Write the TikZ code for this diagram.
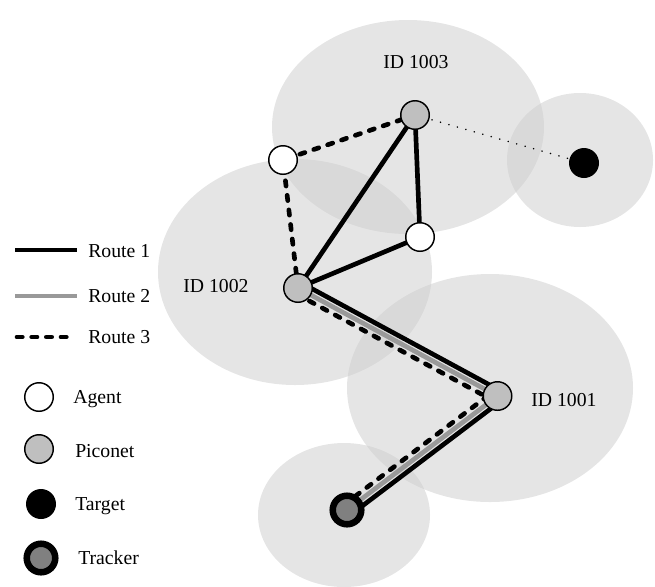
\documentclass[tikz,border=0pt]{standalone}
\usepackage{fontspec}
\setmainfont{Liberation Serif}

\begin{document}
\begin{tikzpicture}[x=0.75pt,y=-0.75pt,
  every node/.style={font=\fontsize{14.8}{17}\selectfont, inner sep=0pt},
  zone/.style={fill=black!20, fill opacity=0.5},
  unit/.style={circle, draw, line width=1.1pt, minimum size=21.4pt},
  agent/.style={unit, fill=white},
  piconet/.style={unit, fill=black!25},
  target/.style={circle, fill=black, minimum size=22.5pt},
  tracker/.style={circle, draw, line width=4.9pt, fill=black!50, minimum size=21.4pt},
  route1/.style={line width=3.5pt, black},
  route2/.style={line width=3.5pt, black!40},
  route3/.style={line width=3.5pt, dash pattern=on 4pt off 7pt, line cap=round},
  ]
\useasboundingbox (0,0) rectangle (655,586);

% coverage zones
\fill[zone] (408,127) ellipse [x radius=136, y radius=107];
\fill[zone] (580,160) ellipse [x radius=73, y radius=67];
\fill[zone] (295,272) ellipse [x radius=137, y radius=113];
\fill[zone] (490,388) ellipse [x radius=143, y radius=114];
\fill[zone] (344,515) ellipse [x radius=86, y radius=72];

\coordinate (p1003) at (415,115);
\coordinate (p1002) at (298,288);
\coordinate (p1001) at (497.5,396);
\coordinate (aTL) at (283,160);
\coordinate (aR) at (420,237);
\coordinate (trk) at (347,510);
\coordinate (tgt) at (584,163);

% routes
\draw[route2] (trk) -- (p1001) -- (p1002);
\draw[route1] ([shift={(3.6,4.8)}]trk) -- ([shift={(3.6,4.8)}]p1001);
\draw[route1] ([shift={(2.85,-5.3)}]p1001) -- ([shift={(2.85,-5.3)}]p1002);
\draw[route1] (p1002) -- (p1003) -- (aR) -- (p1002);
\draw[route3] ([shift={(-3.6,-4.8)}]trk) -- ([shift={(-3.6,-4.8)}]p1001);
\draw[route3] ([shift={(-2.85,5.3)}]p1001) -- ([shift={(-2.85,5.3)}]p1002);
\draw[route3] (p1002) -- (aTL) -- (p1003);
\draw[line width=1.2pt, dash pattern=on 0.1pt off 6.5pt, line cap=round] (p1003) -- (tgt);

% units
\node[piconet] (n1003) at (p1003) {};
\node[piconet] (n1002) at (p1002) {};
\node[piconet] (n1001) at (p1001) {};
\node[agent] (agentTL) at (aTL) {};
\node[agent] (agentR) at (aR) {};
\node[tracker] (tracker) at (trk) {};
\node[target] (target) at (tgt) {};

\node[anchor=base west] (l1003) at (383,68) {ID 1003};
\node[anchor=base west] (l1002) at (183,292) {ID 1002};
\node[anchor=base west] (l1001) at (531,406) {ID 1001};

% legend
\draw[route1] (15,250) -- (77,250);
\draw[route2] (15,296) -- (77,296);
\draw[route3] (17,337) -- (75,337);
\node[anchor=base west] (t1) at (88,257) {Route 1};
\node[anchor=base west] (t2) at (88,302) {Route 2};
\node[anchor=base west] (t3) at (88,343) {Route 3};

\node[agent] (kAgent) at (39,397) {};
\node[piconet] (kPiconet) at (39,449) {};
\node[target] (kTarget) at (41,504) {};
\node[tracker] (kTracker) at (41,558) {};
\node[anchor=base west] (tAgent) at (73,403) {Agent};
\node[anchor=base west] (tPiconet) at (75,457) {Piconet};
\node[anchor=base west] (tTarget) at (75,510) {Target};
\node[anchor=base west] (tTracker) at (78,564) {Tracker};
\end{tikzpicture}
\end{document}
